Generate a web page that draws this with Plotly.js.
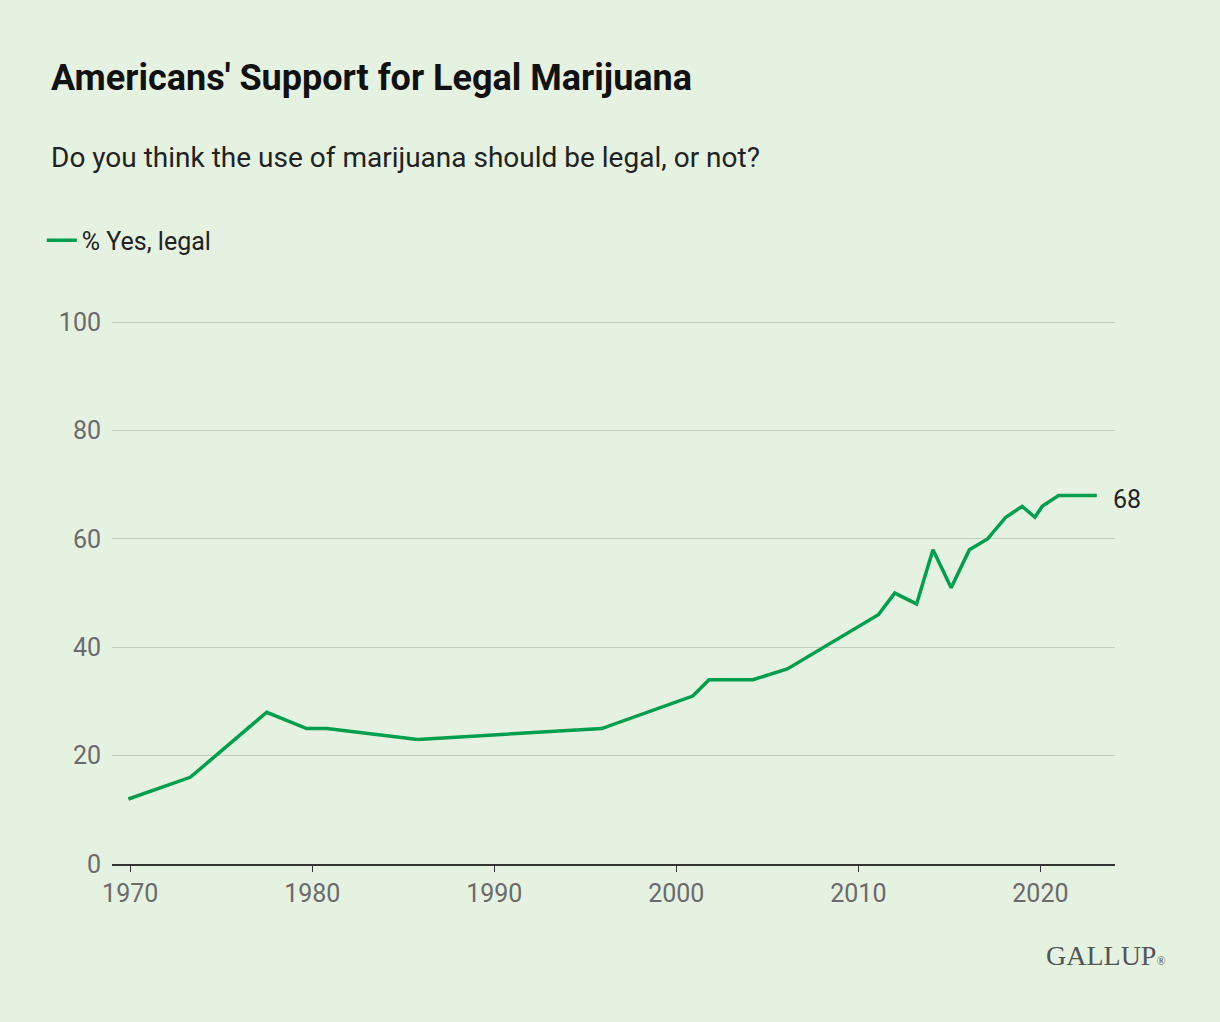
<!DOCTYPE html>
<html>
<head>
<meta charset="utf-8">
<script src="https://cdn.plot.ly/plotly-3.0.1.min.js"></script>
<style>body{margin:0;background:#e5f2e1;}</style>
</head>
<body>
<div id="chart" style="width:1220px;height:1022px;"></div>
<script>
// survey dates (decimal years) and % saying marijuana use should be legal
var years = [1969.9, 1973.3, 1977.5, 1979.7, 1980.8, 1985.8, 1995.9, 2000.9, 2001.8, 2004.2,
  2006.1, 2011.1, 2012.0, 2013.2, 2014.1, 2015.1, 2016.1, 2017.1, 2018.1, 2019.0,
  2019.7, 2020.1, 2021.0, 2023.1];
var yesLegal = [12, 16, 28, 25, 25, 23, 25, 31, 34, 34,
  36, 46, 50, 48, 58, 51, 58, 60, 64, 66,
  64, 66, 68, 68];

var green = '#009f4d';
var font = 'Roboto, Inter, sans-serif';

var trace = {
  x: years,
  y: yesLegal,
  name: '% Yes, legal',
  type: 'scatter',
  mode: 'lines',
  line: {color: green, width: 3.5},
  hoverinfo: 'x+y'
};

var last = yesLegal.length - 1;

var layout = {
  width: 1220,
  height: 1022,
  paper_bgcolor: '#e5f2e1',
  plot_bgcolor: '#e5f2e1',
  margin: {l: 112, r: 105, t: 320, b: 158},
  font: {family: font, color: '#222'},
  showlegend: true,
  legend: {
    x: -0.07, y: 1.146, xanchor: 'left', yanchor: 'middle',
    xref: 'paper', yref: 'paper',
    font: {size: 25, color: '#222', family: font},
    bgcolor: 'rgba(0,0,0,0)'
  },
  xaxis: {
    range: [1969, 2024.1],
    tickvals: [1970, 1980, 1990, 2000, 2010, 2020],
    showgrid: false,
    zeroline: false,
    showline: true,
    linecolor: '#333',
    linewidth: 1.5,
    ticks: 'outside',
    ticklen: 6,
    tickcolor: '#333',
    tickfont: {size: 25, color: '#6b6b6b'}
  },
  yaxis: {
    range: [0, 100.4],
    tickvals: [0, 20, 40, 60, 80, 100],
    gridcolor: '#bfd1bb',
    gridwidth: 1.3,
    zeroline: false,
    showline: false,
    ticks: '',
    ticklabelstandoff: 10,
    tickfont: {size: 25, color: '#6b6b6b'}
  },
  annotations: [
    {text: "<b>Americans' Support for Legal Marijuana</b>", xref: 'paper', yref: 'paper',
     x: -0.0625, y: (864 - 78) / 544, xanchor: 'left', yanchor: 'middle', showarrow: false,
     font: {size: 36, color: '#111', family: font}},
    {text: 'Do you think the use of marijuana should be legal, or not?', xref: 'paper', yref: 'paper',
     x: -0.0625, y: (864 - 157) / 544, xanchor: 'left', yanchor: 'middle', showarrow: false,
     font: {size: 28, color: '#222', family: font}},
    {text: String(yesLegal[last]), x: years[last], y: yesLegal[last], xanchor: 'left',
     xshift: 14, yshift: -4, showarrow: false, font: {size: 25, color: '#222', family: font}},
    {text: 'GALLUP<span style="font-size:12px">®</span>', xref: 'paper', yref: 'paper', x: 1.053, y: (864 - 955) / 544,
     xanchor: 'right', yanchor: 'middle', showarrow: false,
     font: {size: 28, color: '#555', family: 'Liberation Serif, serif'}}
  ]
};

Plotly.newPlot('chart', [trace], layout, {displayModeBar: false});
</script>
</body>
</html>
